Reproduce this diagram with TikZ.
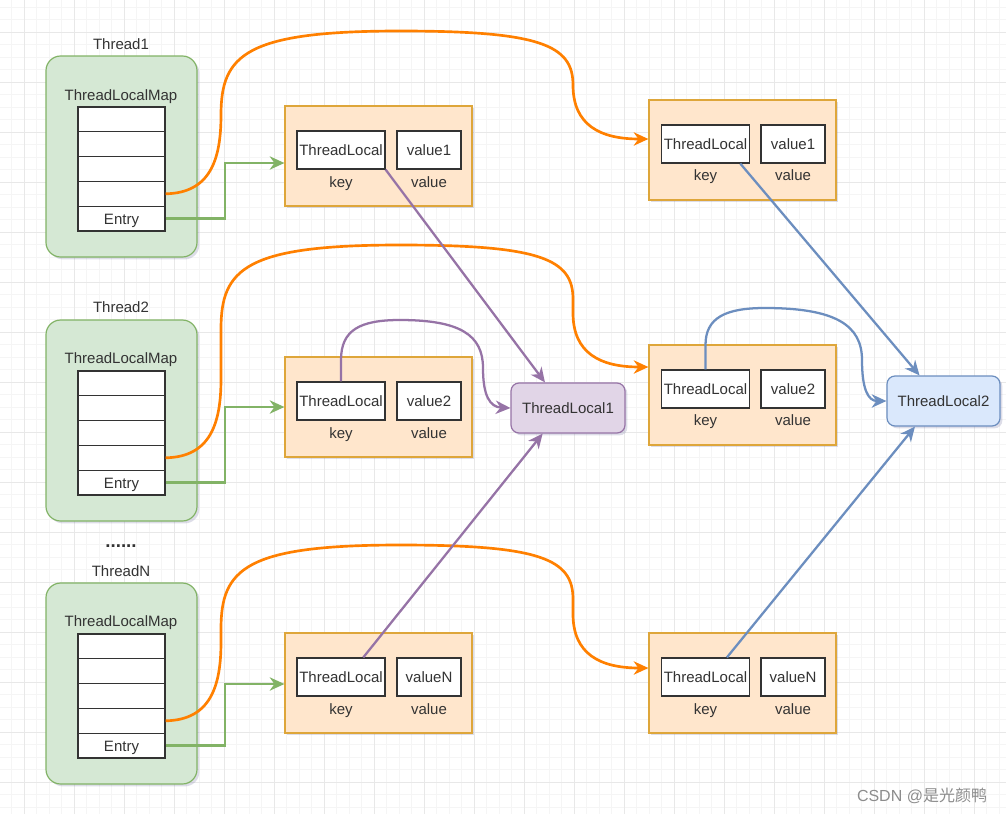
\documentclass[tikz,border=0pt]{standalone}
\usepackage{fontspec}
\setmainfont{Liberation Sans}
\newfontfamily\cjk{Noto Sans CJK SC}
\usetikzlibrary{arrows.meta,calc,shadows}
\definecolor{gridminor}{HTML}{F5F5F5}
\definecolor{gridmajor}{HTML}{E8E8E8}
\definecolor{grfill}{HTML}{D5E8D4}
\definecolor{grline}{HTML}{82B366}
\definecolor{orfill}{HTML}{FFE6CC}
\definecolor{orline}{HTML}{DEA63A}
\definecolor{orarrow}{HTML}{FF8000}
\definecolor{pufill}{HTML}{E1D5E7}
\definecolor{puline}{HTML}{9673A6}
\definecolor{blfill}{HTML}{DAE8FC}
\definecolor{blline}{HTML}{6C8EBF}
\definecolor{txt}{HTML}{333333}
\definecolor{wmgray}{HTML}{8C8C8C}
\tikzset{
  shadowed/.style={drop shadow={shadow xshift=1.8pt,shadow yshift=-1.8pt,opacity=0.22,fill=gray!80!blue}},
  capc/.style={text height=8.1pt,text depth=0pt},
  threadbox/.style={draw=grline,fill=grfill,line width=0.9pt,rounded corners=11pt,minimum width=113.25pt,minimum height=150.75pt,shadowed},
  lbl/.style={text=txt,inner sep=0pt,capc},
  rowbox/.style={draw=black!80,fill=white,line width=0.9pt,minimum width=65.25pt,minimum height=18.6pt,inner sep=0pt,text=txt,capc},
  entrybox/.style={draw=orline,fill=orfill,line width=0.9pt,minimum width=140.25pt,minimum height=75pt,shadowed},
  keybox/.style={draw=black!80,fill=white,line width=0.9pt,minimum width=66pt,minimum height=28.5pt,inner sep=0pt,text=txt,capc},
  valbox/.style={draw=black!80,fill=white,line width=0.9pt,minimum width=48pt,minimum height=28.5pt,inner sep=0pt,text=txt,capc},
  tlone/.style={draw=puline,fill=pufill,line width=0.9pt,rounded corners=6pt,minimum width=85.5pt,minimum height=37.5pt,inner sep=0pt,text=txt,capc,shadowed},
  tltwo/.style={draw=blline,fill=blfill,line width=0.9pt,rounded corners=6pt,minimum width=84.75pt,minimum height=37.5pt,inner sep=0pt,text=txt,capc,shadowed},
  tip/.style={-{Stealth[length=11pt,width=10pt,inset=3.5pt]}},
  orangeline/.style={draw=orarrow,line width=2pt,tip,line join=round},
  greenline/.style={draw=grline,line width=1.7pt,tip},
  purpleline/.style={draw=puline,line width=1.7pt,tip},
  blueline/.style={draw=blline,line width=1.7pt,tip},
}
\begin{document}
\begin{tikzpicture}[x=0.75pt,y=-0.75pt,font=\fontsize{11.25pt}{13pt}\selectfont]
\useasboundingbox (0,0) rectangle (1006,814);
\fill[white] (0,0) rectangle (1006,814);
% grid
\foreach \i in {0,...,80} \draw[gridminor,line width=0.5pt] ({11.5+12.5*\i},0) -- ({11.5+12.5*\i},814);
\foreach \i in {0,...,65} \draw[gridminor,line width=0.5pt] (0,{7+12.5*\i}) -- (1006,{7+12.5*\i});
\foreach \i in {0,...,19} \draw[gridmajor,line width=0.6pt] ({24+50*\i},0) -- ({24+50*\i},814);
\foreach \i in {0,...,15} \draw[gridmajor,line width=0.6pt] (0,{32+50*\i}) -- (1006,{32+50*\i});

% Thread 1
\node[lbl] (t1l) at (121,44) {Thread1};
\node[threadbox] (t1) at (121.5,156.5) {};
\node[lbl] (t1m) at (121,95) {ThreadLocalMap};
\foreach \i in {1,...,4} \node[rowbox] (ra\i) at (121.5,{107+12.4+24.8*(\i-1)}) {};
\node[rowbox] (ea) at (121.5,218.6) {Entry};

% Thread 2
\node[lbl] (t2l) at (121,307) {Thread2};
\node[threadbox] (t2) at (121.5,420.5) {};
\node[lbl] (t2m) at (121,358) {ThreadLocalMap};
\foreach \i in {1,...,4} \node[rowbox] (rb\i) at (121.5,{371+12.4+24.8*(\i-1)}) {};
\node[rowbox] (eb) at (121.5,482.6) {Entry};

% Thread N
\node[text=txt,inner sep=0pt,font=\fontsize{14pt}{16pt}\selectfont\bfseries] (dots) at (121,546) {......};
\node[lbl] (t3l) at (121,571) {ThreadN};
\node[threadbox] (t3) at (121.5,683.5) {};
\node[lbl] (t3m) at (121,621) {ThreadLocalMap};
\foreach \i in {1,...,4} \node[rowbox] (rc\i) at (121.5,{634+12.4+24.8*(\i-1)}) {};
\node[rowbox] (ec) at (121.5,745.6) {Entry};

% left entries
\node[entrybox] (b1) at (378.5,156) {};
\node[keybox] (k1) at (341,150) {ThreadLocal};
\node[valbox] (v1) at (429,150) {value1};
\node[lbl] (k1l) at (341,182) {key};
\node[lbl] (v1l) at (429,182) {value};

\node[entrybox] (b2) at (378.5,407) {};
\node[keybox] (k2) at (341,401) {ThreadLocal};
\node[valbox] (v2) at (429,401) {value2};
\node[lbl] (k2l) at (341,433) {key};
\node[lbl] (v2l) at (429,433) {value};

\node[entrybox] (b3) at (378.5,683) {};
\node[keybox] (k3) at (341,677) {ThreadLocal};
\node[valbox] (v3) at (429,677) {valueN};
\node[lbl] (k3l) at (341,709) {key};
\node[lbl] (v3l) at (429,709) {value};

% right entries
\node[entrybox] (c1) at (742.5,150) {};
\node[keybox] (m1) at (705.5,144) {ThreadLocal};
\node[valbox] (w1) at (793,144) {value1};
\node[lbl] (m1l) at (705.5,175) {key};
\node[lbl] (w1l) at (793,175) {value};

\node[entrybox] (c2) at (742.5,395) {};
\node[keybox] (m2) at (705.5,389) {ThreadLocal};
\node[valbox] (w2) at (793,389) {value2};
\node[lbl] (m2l) at (705.5,420) {key};
\node[lbl] (w2l) at (793,420) {value};

\node[entrybox] (c3) at (742.5,683) {};
\node[keybox] (m3) at (705.5,677) {ThreadLocal};
\node[valbox] (w3) at (793,677) {valueN};
\node[lbl] (m3l) at (705.5,709) {key};
\node[lbl] (w3l) at (793,709) {value};

% ThreadLocal objects
\node[tlone] (tl1) at (568,408) {ThreadLocal1};
\node[tltwo] (tl2) at (943.5,401) {ThreadLocal2};

% green connectors
\draw[greenline] (ea.east) -- (225,218.6) |- ([yshift=-5.25pt]b1.west);
\draw[greenline] (eb.east) -- (225,482.6) |- (b2.west);
\draw[greenline] (ec.east) -- (225,745.6) |- ([yshift=-0.75pt]b3.west);

% orange connectors
\draw[orangeline] (ra4.east) .. controls (210,193) and (221,160) .. (221,115)
  .. controls (221,55) and (245,31) .. (400,31)
  .. controls (540,31) and (573,45) .. (573,85)
  .. controls (573,125) and (600,139) .. ([yshift=8.25pt]c1.west);
\draw[orangeline] (rb4.east) .. controls (210,457) and (221,424) .. (221,379)
  -- (221,329) .. controls (221,269) and (245,245) .. (400,245)
  .. controls (540,245) and (573,259) .. (573,299)
  -- (573,313) .. controls (573,353) and (600,367) .. ([yshift=21pt]c2.west);
\draw[orangeline] (rc4.east) .. controls (210,720) and (221,687) .. (221,642)
  -- (221,629) .. controls (221,569) and (245,545) .. (400,545)
  .. controls (540,545) and (573,559) .. (573,599)
  -- (573,614) .. controls (573,654) and (600,668) .. ([yshift=11.25pt]c3.west);

% purple connectors
\draw[purpleline] (k1.south east) -- ($(tl1.north west)!0.3!(tl1.north east)$);
\draw[purpleline] ($(k2.north west)!0.5!(k2.north east)$) -- (341,360)
  .. controls (341,330) and (360,320) .. (400,320)
  .. controls (460,320) and (483,335) .. (483,368)
  .. controls (483,396) and (490,407) .. (tl1.west);
\draw[purpleline] ($(k3.north west)!0.75!(k3.north east)$) -- ($(tl1.south west)!0.28!(tl1.south east)$);

% blue connectors
\draw[blueline] ($(m1.south west)!0.89!(m1.south east)$) -- ($(tl2.north west)!0.29!(tl2.north east)$);
\draw[blueline] (m2.north) -- (705.5,345)
  .. controls (705.5,318) and (725,308) .. (765,308)
  .. controls (835,308) and (862,325) .. (862,360)
  .. controls (862,389) and (868,401) .. (tl2.west);
\draw[blueline] ($(m3.north west)!0.74!(m3.north east)$) -- ($(tl2.south west)!0.25!(tl2.south east)$);

% watermark
\node[text=wmgray,inner sep=0pt,font=\fontsize{12pt}{14pt}\selectfont] (wm) at (922,796) {CSDN @{\cjk 是光颜鸭}};
\end{tikzpicture}
\end{document}
